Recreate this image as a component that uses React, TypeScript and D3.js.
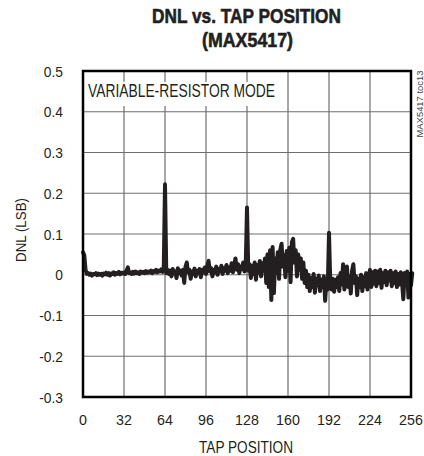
import React from "react";
import * as d3 from "d3";

const xTicks = [0, 32, 64, 96, 128, 160, 192, 224, 256];
const yTicks = [0.5, 0.4, 0.3, 0.2, 0.1, 0, -0.1, -0.2, -0.3];
const yTickLabels = ["0.5", "0.4", "0.3", "0.2", "0.1", "0", "-0.1", "-0.2", "-0.3"];

// DNL (LSB) for tap positions 0..256
const dnl = [
  0.055, 0.048, 0.012, 0.002, 0.004, 0.0, 0.003, -0.002, 0.002, 0.001, 0.004, -0.001, 0.003, 0.0, 0.002, -0.002,
  0.003, 0.001, 0.005, 0.0, 0.004, -0.002, 0.003, 0.002, 0.006, 0.0, 0.004, 0.002, 0.007, 0.001, 0.005, 0.003,
  0.006, 0.002, 0.01, 0.018, 0.004, 0.006, 0.002, 0.007, 0.003, 0.008, 0.004, 0.006, 0.002, 0.008, 0.005, 0.007,
  0.004, 0.009, 0.005, 0.008, 0.006, 0.01, 0.004, 0.009, 0.007, 0.012, 0.006, 0.01, 0.008, 0.013, 0.007, 0.012,
  0.222,
  0.004, 0.012, 0.002, 0.01, -0.004, 0.014, 0.003, 0.008, -0.008, 0.016, 0.004, 0.01, -0.002, 0.012, -0.02,
  0.02, 0.03, 0.006, 0.012, -0.01, 0.008, 0.002, 0.015, -0.004, 0.01, 0.004, 0.014, -0.006, 0.012, 0.006, 0.018,
  0.002, 0.022, 0.034, 0.008, 0.016, -0.004, 0.012, 0.006, 0.02, 0.0, 0.014, 0.008, 0.022, 0.002, 0.016, 0.01,
  0.024, 0.004, 0.018, 0.01, 0.028, 0.006, 0.022, 0.04, 0.012, 0.026, 0.004, 0.02, 0.014, 0.03, 0.008, 0.022,
  0.165,
  0.01, 0.026, -0.008, 0.022, 0.002, 0.03, -0.012, 0.024, 0.006, 0.034, -0.004, 0.028, 0.01, 0.04, -0.02,
  0.05, -0.03, 0.06, -0.062, 0.068, -0.045, 0.04, 0.004, 0.055, -0.01, 0.062, 0.076, 0.02, 0.048, -0.006, 0.058,
  0.01, 0.066, -0.018, 0.08, 0.088, 0.03, 0.06, -0.004, 0.05, 0.012, 0.04, -0.01, 0.03, -0.02, 0.01, -0.03,
  0.0, -0.04, -0.008, -0.03, 0.002, -0.044, -0.01, -0.026, -0.002, -0.04, -0.012, -0.03, -0.004, -0.064, -0.014, -0.036,
  0.103,
  -0.02, -0.036, -0.01, -0.042, -0.012, -0.03, -0.006, -0.04, 0.004, -0.024, 0.026, -0.036, -0.008, 0.02, -0.03, -0.004,
  -0.046, 0.01, 0.026, -0.02, -0.004, -0.05, -0.01, -0.03, 0.0, -0.04, -0.006, -0.028, 0.004, -0.036, -0.008, 0.012,
  -0.03, 0.006, -0.022, 0.01, -0.028, 0.008, -0.02, 0.012, -0.032, 0.004, -0.018, 0.01, -0.026, 0.006, -0.014, 0.01,
  -0.028, 0.004, -0.02, 0.008, -0.03, 0.002, -0.024, 0.006, -0.018, -0.06, 0.004, -0.022, 0.008, -0.056, 0.002, -0.026,
  0.004,
];

const FONT = "'Liberation Sans', Arial, sans-serif";
const INK = "#231f20";

export default function App() {
  const left = 83, right = 411, top = 71, bottom = 397;
  const x = d3.scaleLinear().domain([0, 256]).range([left, right]);
  const y = d3.scaleLinear().domain([-0.3, 0.5]).range([bottom, top]);
  const line = d3
    .line<number>()
    .x((_, i) => x(i))
    .y((d) => y(d));

  return (
    <svg
      width={424}
      height={456}
      style={{ position: "absolute", left: 0, top: 0, background: "#fff" }}
    >
      <rect x={0} y={0} width={424} height={456} fill="#fff" />
      {/* title */}
      <text x={246.5} y={23} textAnchor="middle" fontFamily={FONT} fontWeight="bold" fontSize={20.5} fill={INK} stroke={INK} strokeWidth={0.6} textLength={189} lengthAdjust="spacingAndGlyphs">
        DNL vs. TAP POSITION
      </text>
      <text x={247.5} y={47} textAnchor="middle" fontFamily={FONT} fontWeight="bold" fontSize={20.5} fill={INK} stroke={INK} strokeWidth={0.6} textLength={91} lengthAdjust="spacingAndGlyphs">
        (MAX5417)
      </text>

      {/* grid */}
      {xTicks.slice(1, -1).map((t) => (
        <line key={"gx" + t} x1={x(t)} x2={x(t)} y1={top} y2={bottom} stroke="#6d6e71" strokeWidth={1.2} />
      ))}
      {yTicks.slice(1, -1).map((t) => (
        <line key={"gy" + t} x1={left} x2={right} y1={y(t)} y2={y(t)} stroke="#6d6e71" strokeWidth={1.2} />
      ))}

      {/* annotation box */}
      <rect x={85} y={82} width={198} height={24} fill="#fff" />
      <text x={88} y={96.5} fontFamily={FONT} fontSize={18} fill={INK} textLength={187} lengthAdjust="spacingAndGlyphs">
        VARIABLE-RESISTOR MODE
      </text>

      {/* data */}
      <path d={line(dnl) || ""} fill="none" stroke={INK} strokeWidth={4} strokeLinejoin="round" strokeLinecap="round" />

      {/* frame */}
      <rect x={left} y={top} width={right - left} height={bottom - top} fill="none" stroke="#000" strokeWidth={2.5} />

      {/* y tick labels */}
      {yTicks.map((t, i) => (
        <text key={"yl" + t} transform={`translate(63,${y(t) + 5.5}) scale(0.92,1)`} textAnchor="end" fontFamily={FONT} fontSize={15} fill={INK}>
          {yTickLabels[i]}
        </text>
      ))}
      {/* x tick labels */}
      {xTicks.map((t) => (
        <text key={"xl" + t} transform={`translate(${x(t)},425) scale(0.92,1)`} textAnchor="middle" fontFamily={FONT} fontSize={15.5} fill={INK}>
          {t}
        </text>
      ))}

      <text x={246} y={453} textAnchor="middle" fontFamily={FONT} fontSize={17} fill={INK} textLength={94} lengthAdjust="spacingAndGlyphs">
        TAP POSITION
      </text>
      <text transform={`translate(26,230) rotate(-90)`} textAnchor="middle" fontFamily={FONT} fontSize={15} fill={INK} textLength={64} lengthAdjust="spacingAndGlyphs">
        DNL (LSB)
      </text>
      <text transform={`translate(423,104) rotate(-90)`} textAnchor="middle" fontFamily={FONT} fontSize={9} fill="#444" textLength={67} lengthAdjust="spacingAndGlyphs">
        MAX5417 toc13
      </text>
    </svg>
  );
}
